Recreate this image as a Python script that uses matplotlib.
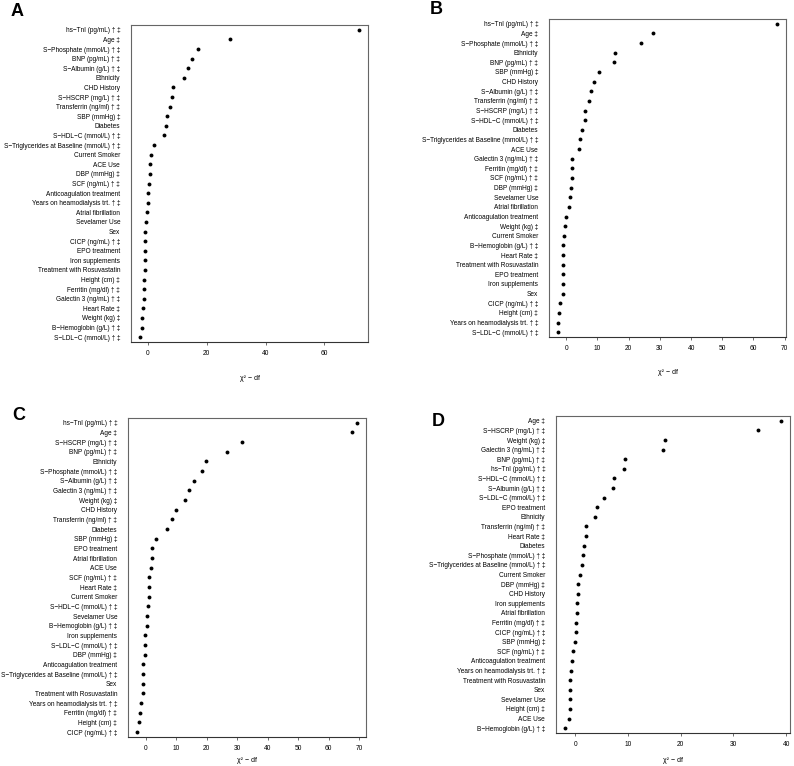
import numpy as np
import matplotlib
matplotlib.use("Agg")
import matplotlib.pyplot as plt

plt.rcParams['font.family'] = ['Liberation Sans', 'DejaVu Sans']

# panel A
labels_a = ["hs−TnI (pg/mL) † ‡", "Age ‡", "S−Phosphate (mmol/L) † ‡", "BNP (pg/mL) † ‡",
            "S−Albumin (g/L) † ‡", "Ethnicity", "CHD History", "S−HSCRP (mg/L) † ‡",
            "Transferrin (ng/ml) † ‡", "SBP (mmHg) ‡", "Diabetes", "S−HDL−C (mmol/L) † ‡",
            "S−Triglycerides at Baseline (mmol/L) † ‡", "Current Smoker", "ACE Use", "DBP (mmHg) ‡",
            "SCF (ng/mL) † ‡", "Anticoagulation treatment", "Years on heamodialysis trt. † ‡",
            "Atrial fibrillation", "Sevelamer Use", "Sex", "CICP (ng/mL) † ‡", "EPO treatment",
            "Iron supplements", "Treatment with Rosuvastatin", "Height (cm) ‡", "Ferritin (mg/dl) † ‡",
            "Galectin 3 (ng/mL) † ‡", "Heart Rate ‡", "Weight (kg) ‡", "B−Hemoglobin (g/L) † ‡",
            "S−LDL−C (mmol/L) † ‡"]
values_a = [71.8, 27.8, 17.1, 15.0, 13.6, 12.4, 8.5, 8.1, 7.7, 6.7, 6.1, 5.6, 2.2, 1.2, 0.8, 0.7,
            0.5, 0.2, 0.2, -0.3, -0.6, -0.8, -0.9, -0.9, -1.0, -1.0, -1.2, -1.4, -1.4, -1.6, -1.9,
            -2.0, -2.7]

# panel B
labels_b = ["hs−TnI (pg/mL) † ‡", "Age ‡", "S−Phosphate (mmol/L) † ‡", "Ethnicity", "BNP (pg/mL) † ‡",
            "SBP (mmHg) ‡", "CHD History", "S−Albumin (g/L) † ‡", "Transferrin (ng/ml) † ‡",
            "S−HSCRP (mg/L) † ‡", "S−HDL−C (mmol/L) † ‡", "Diabetes",
            "S−Triglycerides at Baseline (mmol/L) † ‡", "ACE Use", "Galectin 3 (ng/mL) † ‡",
            "Ferritin (mg/dl) † ‡", "SCF (ng/mL) † ‡", "DBP (mmHg) ‡", "Sevelamer Use",
            "Atrial fibrillation", "Anticoagulation treatment", "Weight (kg) ‡", "Current Smoker",
            "B−Hemoglobin (g/L) † ‡", "Heart Rate ‡", "Treatment with Rosuvastatin", "EPO treatment",
            "Iron supplements", "Sex", "CICP (ng/mL) † ‡", "Height (cm) ‡",
            "Years on heamodialysis trt. † ‡", "S−LDL−C (mmol/L) † ‡"]
values_b = [67.6, 27.8, 24.0, 15.6, 15.3, 10.5, 8.8, 7.8, 7.3, 6.1, 5.9, 5.1, 4.3, 4.1, 1.9, 1.8,
            1.7, 1.6, 1.1, 0.9, 0.0, -0.3, -0.6, -0.9, -0.9, -0.9, -1.0, -1.1, -1.1, -2.1, -2.2,
            -2.5, -2.7]

# panel C
labels_c = ["hs−TnI (pg/mL) † ‡", "Age ‡", "S−HSCRP (mg/L) † ‡", "BNP (pg/mL) † ‡", "Ethnicity",
            "S−Phosphate (mmol/L) † ‡", "S−Albumin (g/L) † ‡", "Galectin 3 (ng/mL) † ‡",
            "Weight (kg) ‡", "CHD History", "Transferrin (ng/ml) † ‡", "Diabetes", "SBP (mmHg) ‡",
            "EPO treatment", "Atrial fibrillation", "ACE Use", "SCF (ng/mL) † ‡", "Heart Rate ‡",
            "Current Smoker", "S−HDL−C (mmol/L) † ‡", "Sevelamer Use", "B−Hemoglobin (g/L) † ‡",
            "Iron supplements", "S−LDL−C (mmol/L) † ‡", "DBP (mmHg) ‡", "Anticoagulation treatment",
            "S−Triglycerides at Baseline (mmol/L) † ‡", "Sex", "Treatment with Rosuvastatin",
            "Years on heamodialysis trt. † ‡", "Ferritin (mg/dl) † ‡", "Height (cm) ‡",
            "CICP (ng/mL) † ‡"]
values_c = [69.4, 67.7, 31.5, 26.6, 19.6, 18.4, 15.7, 14.3, 12.8, 9.8, 8.7, 7.0, 3.2, 2.1, 2.0, 1.5,
            1.1, 1.0, 1.0, 0.7, 0.4, 0.2, -0.2, -0.3, -0.3, -1.1, -1.1, -1.1, -1.1, -1.5, -2.1,
            -2.2, -3.0]

# panel D
labels_d = ["Age ‡", "S−HSCRP (mg/L) † ‡", "Weight (kg) ‡", "Galectin 3 (ng/mL) † ‡", "BNP (pg/mL) † ‡",
            "hs−TnI (pg/mL) † ‡", "S−HDL−C (mmol/L) † ‡", "S−Albumin (g/L) † ‡", "S−LDL−C (mmol/L) † ‡",
            "EPO treatment", "Ethnicity", "Transferrin (ng/ml) † ‡", "Heart Rate ‡", "Diabetes",
            "S−Phosphate (mmol/L) † ‡", "S−Triglycerides at Baseline (mmol/L) † ‡", "Current Smoker",
            "DBP (mmHg) ‡", "CHD History", "Iron supplements", "Atrial fibrillation",
            "Ferritin (mg/dl) † ‡", "CICP (ng/mL) † ‡", "SBP (mmHg) ‡", "SCF (ng/mL) † ‡",
            "Anticoagulation treatment", "Years on heamodialysis trt. † ‡", "Treatment with Rosuvastatin",
            "Sex", "Sevelamer Use", "Height (cm) ‡", "ACE Use", "B−Hemoglobin (g/L) † ‡"]
values_d = [39.1, 34.6, 17.1, 16.6, 9.5, 9.3, 7.3, 7.2, 5.5, 4.1, 3.7, 2.0, 2.0, 1.6, 1.4, 1.3, 0.9,
            0.6, 0.5, 0.4, 0.3, 0.1, 0.1, -0.1, -0.4, -0.7, -0.8, -0.9, -0.9, -0.9, -1.0, -1.1, -2.0]

ticks_a = [0, 20, 40, 60]
ticks_b = [0, 10, 20, 30, 40, 50, 60, 70]
ticks_c = [0, 10, 20, 30, 40, 50, 60, 70]
ticks_d = [0, 10, 20, 30, 40]

W, H = 794, 766
fig = plt.figure(figsize=(W / 100, H / 100), dpi=100)

def px_axes(l, t, r, b):
    return fig.add_axes([l / W, 1 - b / H, (r - l) / W, (b - t) / H])

def dotpanel(box, labels, vals, ticks, letter, letter_xy, xlab_y):
    ax = px_axes(*box)
    n = len(vals)
    y = np.arange(n, 0, -1)
    ax.plot(vals, y, 'o', color='black', ms=2.8, mec='black', mew=0)
    lo, hi = min(vals), max(vals)
    pad = (hi - lo) * 0.04
    ax.set_xlim(lo - pad, hi + pad)
    ax.set_ylim(0.5, n + 0.5)
    ax.set_yticks(y)
    ax.set_yticklabels(labels, fontsize=4.7)
    ax.tick_params(axis='y', length=0, pad=7.8)
    ax.set_xticks(ticks)
    ax.set_xticklabels([str(t) for t in ticks], fontsize=4.8)
    ax.tick_params(axis='x', length=2.2, width=0.5, pad=3.5, color='#333333')
    for s in ax.spines.values():
        s.set_color('#666666')
        s.set_linewidth(0.8)
    ax.spines['bottom'].set_color('#333333')
    cx = (box[0] + box[2]) / 2
    fig.text(cx / W, 1 - xlab_y / H, 'χ² − df', fontsize=5, ha='center', va='center')
    fig.text(letter_xy[0] / W, 1 - letter_xy[1] / H, letter, fontsize=13, fontweight='bold',
             ha='center', va='center')
    return ax

dotpanel((131, 25, 368, 342), labels_a, values_a, ticks_a, 'A', (17, 12), 378)
dotpanel((549, 19, 786, 337), labels_b, values_b, ticks_b, 'B', (436, 10), 372)
dotpanel((128, 418, 366, 737), labels_c, values_c, ticks_c, 'C', (19, 415), 761)
dotpanel((556, 416, 790, 733), labels_d, values_d, ticks_d, 'D', (438, 421), 761)

fig.savefig('out.png', dpi=100, facecolor='white')
